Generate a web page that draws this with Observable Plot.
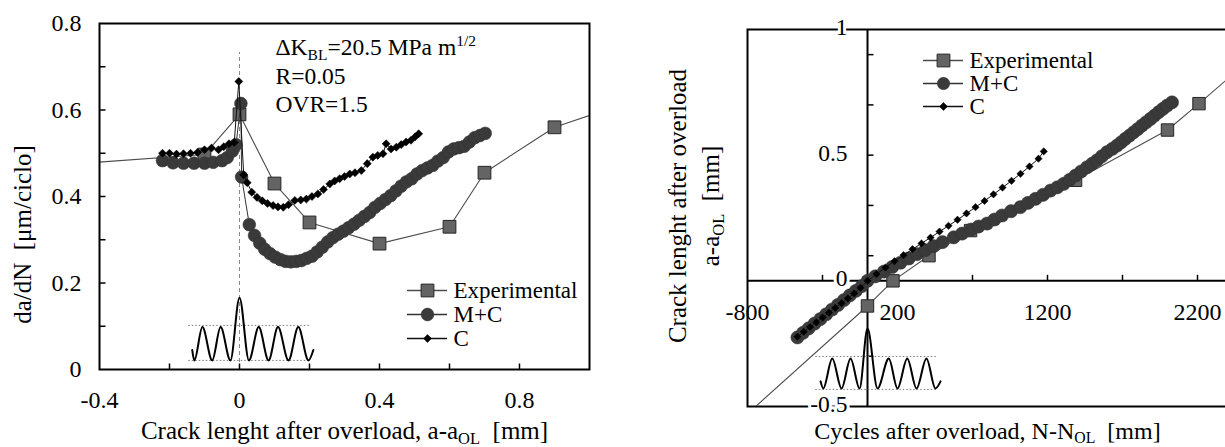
<!DOCTYPE html>
<html><head><meta charset="utf-8">
<script src="https://cdn.jsdelivr.net/npm/d3@7"></script>
<script src="https://cdn.jsdelivr.net/npm/@observablehq/plot@0.6"></script>
<style>
html,body{margin:0;padding:0;background:#fff;overflow:hidden;width:1225px;height:447px}
#wrap{position:relative;width:1225px;height:447px;overflow:hidden;background:#fff}
#wrap svg{position:absolute;max-width:none}
</style></head><body><div id="wrap"></div>
<script>
// ---------------- data: left panel (da/dN vs crack length) ----------------
const seriesNames = ["Experimental", "M+C", "C"];

const leftXLabels = [-0.4, 0, 0.4, 0.8];
const leftXTicks = [-0.2, 0, 0.2, 0.4, 0.6, 0.8];
const leftYLabels = [0, 0.2, 0.4, 0.6, 0.8];
const leftYTicks = [0.1, 0.2, 0.3, 0.4, 0.5, 0.6, 0.7];

const leftExpX = [-0.6, -0.1, 0, 0.1, 0.2, 0.4, 0.6, 0.7, 0.9, 1.1];
const leftExpY = [0.468, 0.497, 0.59, 0.43, 0.34, 0.291, 0.33, 0.455, 0.56, 0.615];

const leftMCX = [-0.22, -0.19, -0.16, -0.13, -0.10, -0.075, -0.05, -0.035, -0.02, -0.01, 0.004,
  0.006, 0.028, 0.043, 0.058, 0.072, 0.087, 0.102, 0.117, 0.132, 0.147,
  0.162, 0.177, 0.192, 0.207, 0.222, 0.237, 0.252, 0.267, 0.282, 0.297,
  0.312, 0.327, 0.342, 0.357, 0.372, 0.387, 0.402, 0.417, 0.432, 0.447,
  0.462, 0.477, 0.492, 0.507, 0.522, 0.537, 0.552, 0.567, 0.582, 0.597,
  0.612, 0.627, 0.642, 0.657, 0.672, 0.687, 0.702];
const leftMCY = [0.483, 0.478, 0.477, 0.477, 0.477, 0.479, 0.483, 0.49, 0.505, 0.52, 0.615,
  0.445, 0.335, 0.31, 0.292, 0.278, 0.268, 0.26, 0.254, 0.25, 0.249,
  0.25, 0.252, 0.257, 0.262, 0.272, 0.283, 0.295, 0.305, 0.313, 0.32,
  0.328, 0.336, 0.345, 0.354, 0.363, 0.375, 0.384, 0.393, 0.402, 0.413,
  0.424, 0.434, 0.441, 0.452, 0.46, 0.466, 0.472, 0.482, 0.49, 0.503,
  0.51, 0.513, 0.516, 0.526, 0.536, 0.541, 0.546];

const leftCX = [-0.22, -0.2, -0.18, -0.16, -0.14, -0.12, -0.1, -0.08, -0.06, -0.045, -0.03, -0.015, -0.002,
  0.012, 0.022, 0.035, 0.05, 0.065, 0.08, 0.096, 0.11, 0.125, 0.14,
  0.158, 0.175, 0.191, 0.207, 0.224, 0.24, 0.258, 0.272, 0.286, 0.3,
  0.315, 0.33, 0.348, 0.365, 0.381, 0.395, 0.41, 0.419, 0.433, 0.448,
  0.462, 0.476, 0.49, 0.502, 0.512];
const leftCY = [0.5, 0.5, 0.498, 0.499, 0.5, 0.502, 0.508, 0.512, 0.508, 0.515, 0.522, 0.525, 0.666,
  0.45, 0.432, 0.41, 0.398, 0.39, 0.384, 0.379, 0.376, 0.375, 0.381,
  0.391, 0.392, 0.394, 0.4, 0.406, 0.416, 0.429, 0.436, 0.441, 0.446,
  0.452, 0.455, 0.46, 0.476, 0.491, 0.495, 0.499, 0.522, 0.51, 0.514,
  0.52, 0.526, 0.53, 0.538, 0.545];

// load waveform inset (crest / trough vertices)
const leftWaveX = [-0.135, -0.129, -0.106, -0.078, -0.054, -0.026, 0, 0.027, 0.055, 0.083, 0.11, 0.14, 0.168, 0.197, 0.211];
const leftWaveY = [0.045, 0.021, 0.098, 0.021, 0.098, 0.021, 0.166, 0.021, 0.098, 0.021, 0.098, 0.021, 0.098, 0.021, 0.045];
const leftWaveLevels = [0.102, 0.021];
const leftWaveSpan = [-0.145, 0.2];
const leftOverloadLine = [0, 0.733];

const annotations = ["ΔK_{BL}=20.5 MPa m^{1/2}", "R=0.05", "OVR=1.5"];

// ---------------- data: right panel (crack length vs cycles) ----------------
const rightXLabels = [-800, 200, 1200, 2200];
const rightXTicks = [-300, 200, 700, 1200, 1700, 2200];
const rightYLabels = [-0.5, 0, 0.5, 1];
const rightYTicks = [-0.3, -0.1, 0.1, 0.3, 0.5, 0.7, 0.9];

const rightExpN = [-900, 0, 170, 410, 687, 1387, 2000, 2210, 2500];
const rightExpA = [-0.583, -0.1, 0.0, 0.1, 0.2, 0.4, 0.6, 0.705, 0.855];

const rightMCN = [-467, -430, -392, -353, -314, -275, -236, -197, -157, -118, -78, -38, 0,
  52, 110, 165, 220, 275, 330, 385, 440, 500, 575,
  630, 690, 740, 797, 847, 897, 957, 1019, 1070, 1120,
  1170, 1220, 1265, 1308, 1348, 1387, 1424, 1464, 1498, 1530,
  1562, 1597, 1632, 1663, 1691, 1719, 1747, 1774, 1802, 1830,
  1858, 1886, 1913, 1941, 1969, 1997, 2030];
const rightMCA = [-0.225, -0.207, -0.189, -0.170, -0.152, -0.133, -0.114, -0.096, -0.077, -0.058, -0.040, -0.021, 0.0,
  0.018, 0.037, 0.055, 0.072, 0.089, 0.106, 0.122, 0.138, 0.154, 0.173,
  0.188, 0.204, 0.216, 0.228, 0.244, 0.26, 0.277, 0.293, 0.31, 0.326,
  0.342, 0.359, 0.372, 0.386, 0.402, 0.419, 0.435, 0.452, 0.466, 0.479,
  0.495, 0.512, 0.525, 0.538, 0.551, 0.565, 0.578, 0.591, 0.604, 0.618,
  0.631, 0.644, 0.657, 0.671, 0.684, 0.697, 0.71];

const rightCN = [-467, -425, -383, -341, -299, -257, -215, -173, -131, -89, -47, 0,
  60, 120, 180, 240, 300, 360, 420, 480, 540, 600,
  660, 720, 780, 840, 900, 960, 1020, 1080, 1140, 1175];
const rightCA = [-0.222, -0.203, -0.184, -0.165, -0.146, -0.127, -0.108, -0.089, -0.07, -0.05, -0.028, 0.0,
  0.027, 0.053, 0.078, 0.102, 0.126, 0.149, 0.172, 0.196, 0.219, 0.243,
  0.268, 0.293, 0.318, 0.344, 0.371, 0.398, 0.426, 0.455, 0.486, 0.515];

const rightWaveN = [-313, -295, -235, -173, -113, -53, 0, 67, 142, 200, 265, 327, 393, 453, 487];
const rightWaveA = [-0.40, -0.428, -0.309, -0.428, -0.309, -0.428, -0.19, -0.428, -0.309, -0.428, -0.309, -0.428, -0.309, -0.428, -0.40];
const rightWaveLevels = [-0.301, -0.432];
const rightWaveSpan = [-345, 470];

// ---------------- helpers ----------------
const FONT = "'Liberation Serif','Times New Roman',Times,serif";
const zip = (xs, ys) => xs.slice(0, Math.min(xs.length, ys.length)).map((x, i) => ({x, y: ys[i]}));
const fmt = d => String(d);

const styles = {
  "Experimental": {symbol: "square", r: 7.2, rotate: 0, fill: "#646464", stroke: "#262626", strokeWidth: 1, line: "#4d4d4d", lineWidth: 1.1},
  "M+C": {symbol: "circle", r: 6.4, rotate: 0, fill: "#3a3a3a", stroke: "#333", strokeWidth: 0.5, line: "#333", lineWidth: 1},
  "C": {symbol: "square", r: 3.2, rotate: 45, fill: "#000", stroke: "#000", strokeWidth: 0.5, line: "#111", lineWidth: 1}
};

function seriesMarks(rows, st, over = {}) {
  const s = {...st, ...over};
  return [
    Plot.line(rows, {x: "x", y: "y", stroke: s.line, strokeWidth: s.lineWidth, clip: true}),
    Plot.dot(rows, {x: "x", y: "y", symbol: s.symbol, r: s.r, rotate: s.rotate, fill: s.fill, stroke: s.stroke, strokeWidth: s.strokeWidth, clip: true})
  ];
}
const ticksUp = (values, y0) => Plot.vector(values, {x: d => d, y: y0, rotate: 0, length: 6, anchor: "start", r: 0, stroke: "black", strokeWidth: 1.5, strokeLinecap: "butt"});
const ticksRight = (values, x0) => Plot.vector(values, {x: x0, y: d => d, rotate: 90, length: 6, anchor: "start", r: 0, stroke: "black", strokeWidth: 1.5, strokeLinecap: "butt"});

function richText(svg) {
  const NS = "http://www.w3.org/2000/svg";
  svg.querySelectorAll("text").forEach(t => {
    const s = t.textContent;
    if (!/[_^]\{/.test(s)) return;
    const fs = parseFloat(getComputedStyle(t).fontSize) || 24;
    while (t.firstChild) t.removeChild(t.firstChild);
    const re = /([_^])\{([^}]*)\}/g;
    let last = 0, cur = 0, m;
    const add = (txt, target, size) => {
      const ts = document.createElementNS(NS, "tspan");
      ts.textContent = txt;
      const dy = target - cur;
      if (dy) ts.setAttribute("dy", dy.toFixed(2));
      if (size) ts.setAttribute("font-size", size.toFixed(1));
      t.appendChild(ts);
      cur = target;
    };
    while ((m = re.exec(s))) {
      if (m.index > last) add(s.slice(last, m.index), 0);
      add(m[2], m[1] === "_" ? 0.2 * fs : -0.4 * fs, 0.66 * fs);
      last = re.lastIndex;
    }
    if (last < s.length) add(s.slice(last), 0);
  });
}

const wrap = document.getElementById("wrap");
function place(svg, left, top) {
  svg.style.left = left + "px";
  svg.style.top = top + "px";
  wrap.appendChild(svg);
  richText(svg);
}

// ---------------- left chart ----------------
const leftPlot = Plot.plot({
  width: 600, height: 447,
  marginLeft: 99, marginRight: 11, marginTop: 23, marginBottom: 78,
  x: {domain: [-0.4, 1.0], axis: null},
  y: {domain: [0, 0.8], axis: null},
  style: {fontFamily: FONT, fontSize: "24px", background: "white", color: "black", overflow: "visible"},
  marks: [
    Plot.ruleX([leftOverloadLine[0]], {x: d => d, y1: 0, y2: leftOverloadLine[1], stroke: "#8a8a8a", strokeWidth: 1, strokeDasharray: "4,3"}),
    Plot.ruleY(leftWaveLevels, {y: d => d, x1: leftWaveSpan[0], x2: leftWaveSpan[1], stroke: "#7a7a7a", strokeWidth: 1, strokeDasharray: "1.5,2"}),
    Plot.line(zip(leftWaveX, leftWaveY), {x: "x", y: "y", curve: "monotone-x", stroke: "black", strokeWidth: 2}),
    ...seriesMarks(zip(leftExpX, leftExpY), styles["Experimental"]),
    ...seriesMarks(zip(leftMCX, leftMCY), styles["M+C"]),
    ...seriesMarks(zip(leftCX, leftCY), styles["C"]),
    Plot.frame({stroke: "black", strokeWidth: 2}),
    ticksUp(leftXTicks, 0),
    ticksRight(leftYTicks, -0.4),
    Plot.text(leftXLabels, {x: d => d, y: 0, dy: 31, text: fmt, textAnchor: "middle", lineAnchor: "middle"}),
    Plot.text(leftYLabels, {x: -0.4, y: d => d, dx: -18, text: fmt, textAnchor: "end", lineAnchor: "middle"}),
    ...annotations.map((a, i) => Plot.text([a], {frameAnchor: "top-left", dx: 176, dy: 24 + i * 28.5, text: d => d, textAnchor: "start", lineAnchor: "middle", fontSize: 23.5})),
    Plot.text(["Crack lenght after overload, a-a_{OL}\u00a0 [mm]"], {frameAnchor: "bottom", dy: 61, text: d => d, textAnchor: "middle", lineAnchor: "middle", fontSize: 25}),
    Plot.text(["da/dN\u00a0 [μm/ciclo]"], {frameAnchor: "left", rotate: -90, dx: -77, dy: 38, text: d => d, textAnchor: "middle", lineAnchor: "middle", fontSize: 25})
  ]
});
place(leftPlot, 0, 0);

// ---------------- right chart ----------------
const rightPlot = Plot.plot({
  width: 600, height: 447,
  marginLeft: 107, marginRight: 13, marginTop: 29, marginBottom: 41,
  x: {domain: [-800, 2400], axis: null},
  y: {domain: [-0.5, 1], axis: null},
  style: {fontFamily: FONT, fontSize: "24px", background: "white", color: "black", overflow: "visible"},
  marks: [
    Plot.frame({stroke: "black", strokeWidth: 2}),
    Plot.ruleY([0], {stroke: "black", strokeWidth: 2}),
    Plot.ruleX([0], {stroke: "black", strokeWidth: 2}),
    ticksUp(rightXTicks, 0),
    ticksRight(rightYTicks, 0),
    Plot.ruleY(rightWaveLevels, {y: d => d, x1: rightWaveSpan[0], x2: rightWaveSpan[1], stroke: "#7a7a7a", strokeWidth: 1, strokeDasharray: "1.5,2"}),
    Plot.line(zip(rightWaveN, rightWaveA), {x: "x", y: "y", curve: "monotone-x", stroke: "black", strokeWidth: 2}),
    ...seriesMarks(zip(rightExpN, rightExpA), styles["Experimental"], {r: 7}),
    ...seriesMarks(zip(rightMCN, rightMCA), styles["M+C"], {r: 6.6}),
    ...seriesMarks(zip(rightCN, rightCA), styles["C"], {r: 2.9}),
    Plot.text(rightXLabels, {x: d => d, y: 0, dy: 31, text: fmt, textAnchor: "middle", lineAnchor: "middle"}),
    Plot.text(rightYLabels, {x: 0, y: d => d, dx: -20, dy: -2, text: fmt, textAnchor: "end", lineAnchor: "middle", stroke: "white", strokeWidth: 6, fill: "black", paintOrder: "stroke", fontSize: 23.5}),
    Plot.text(["Cycles after overload, N-N_{OL}\u00a0 [mm]"], {frameAnchor: "bottom", dy: 24.5, text: d => d, textAnchor: "middle", lineAnchor: "middle", fontSize: 24}),
    Plot.text(["Crack lenght after overload"], {frameAnchor: "left", rotate: -90, dx: -70, dy: -12, text: d => d, textAnchor: "middle", lineAnchor: "middle", fontSize: 25}),
    Plot.text(["a-a_{OL}\u00a0 [mm]"], {frameAnchor: "left", rotate: -90, dx: -37, dy: -12, text: d => d, textAnchor: "middle", lineAnchor: "middle", fontSize: 25})
  ]
});
place(rightPlot, 640, 0);

// ---------------- legends ----------------
function legendPlot(step, over) {
  const marks = [];
  for (const name of seriesNames) {
    const st = {...styles[name], ...(over[name] || {})};
    marks.push(Plot.ruleY([name], {y: d => d, x1: 0, x2: 1, stroke: st.line, strokeWidth: 1.3}));
    marks.push(Plot.dot([name], {x: 0.5, y: d => d, symbol: st.symbol, r: st.r, rotate: st.rotate, fill: st.fill, stroke: st.stroke, strokeWidth: st.strokeWidth}));
  }
  marks.push(Plot.text(seriesNames, {x: 1, y: d => d, dx: 6, text: d => d, textAnchor: "start", lineAnchor: "middle", fontSize: 23}));
  return Plot.plot({
    width: 220, height: 40 + 2 * step, margin: 0,
    x: {domain: [0, 1], range: [8, 48], axis: null},
    y: {type: "point", domain: seriesNames, range: [10, 10 + 2 * step], axis: null},
    style: {fontFamily: FONT, fontSize: "23px", background: "transparent", color: "black", overflow: "visible"},
    marks
  });
}
place(legendPlot(36, {}), 399, 268);
place(legendPlot(35, {"M+C": {r: 6.2}}), 915, 38);
</script></body></html>
